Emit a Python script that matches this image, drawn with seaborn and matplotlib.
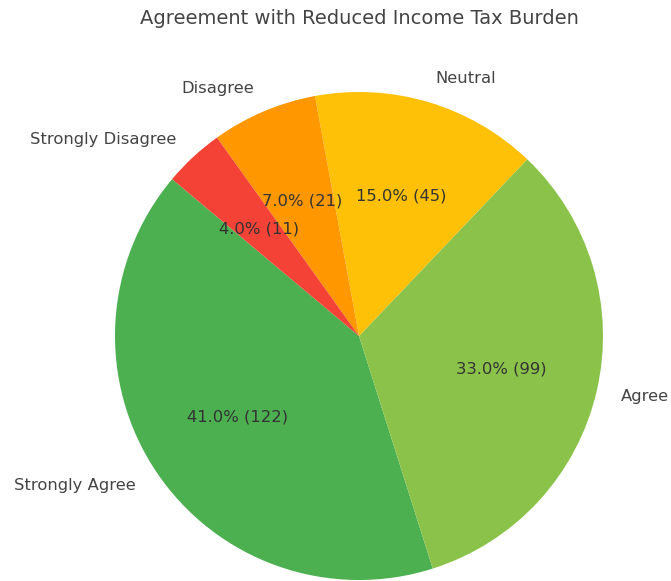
import matplotlib
matplotlib.use("Agg")
import matplotlib.pyplot as plt
import seaborn as sns

sns.set_theme(style="white")
plt.rcParams["font.family"] = ["DejaVu Sans"]

categories = ["Strongly Agree", "Agree", "Neutral", "Disagree", "Strongly Disagree"]
percentages = [41.0, 33.0, 15.0, 7.0, 4.0]
counts = [122, 99, 45, 21, 11]
colors = ["#4CAF50", "#8BC34A", "#FFC107", "#FF9800", "#F44336"]

W, H = 671, 581
fig = plt.figure(figsize=(W / 100, H / 100), dpi=100)
cx, cy, r = 359, 336, 244
ax = fig.add_axes([(cx - r) / W, (H - cy - r) / H, 2 * r / W, 2 * r / H])

count_iter = iter(counts)


def fmt(pct):
    return f"{pct:.1f}% ({next(count_iter)})"


wedges, texts, autotexts = ax.pie(
    percentages,
    labels=categories,
    colors=colors,
    startangle=140,
    autopct=fmt,
    labeldistance=1.1,
    pctdistance=0.6,
    wedgeprops={"linewidth": 0, "edgecolor": "none"},
    textprops={"fontsize": 11.8, "color": "#444444"},
)
for t in autotexts:
    t.set_color("#333333")
ax.set_xlim(-1, 1)
ax.set_ylim(-1, 1)
ax.set_aspect("equal")
ax.axis("off")

fig.text(cx / W, 1 - 18 / H, "Agreement with Reduced Income Tax Burden",
         ha="center", va="center", fontsize=14, color="#444444")

fig.savefig("out.png", dpi=100)
